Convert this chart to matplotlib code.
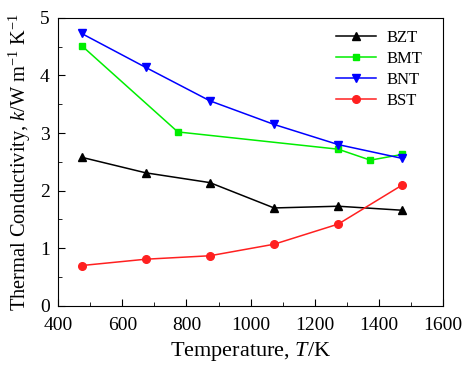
import matplotlib
matplotlib.use('Agg')
import matplotlib.pyplot as plt
from matplotlib.ticker import MultipleLocator

plt.rcParams['font.family'] = ['Liberation Serif', 'DejaVu Serif']
plt.rcParams['mathtext.fontset'] = 'custom'
plt.rcParams['mathtext.rm'] = 'Liberation Serif'
plt.rcParams['mathtext.it'] = 'Liberation Serif:italic'

# data
t_bzt = [473, 673, 873, 1073, 1273, 1473]
k_bzt = [2.58, 2.31, 2.14, 1.70, 1.73, 1.66]
t_bmt = [473, 773, 1273, 1373, 1473]
k_bmt = [4.52, 3.02, 2.72, 2.53, 2.63]
t_bnt = [473, 673, 873, 1073, 1273, 1473]
k_bnt = [4.73, 4.14, 3.56, 3.15, 2.80, 2.56]
t_bst = [473, 673, 873, 1073, 1273, 1473]
k_bst = [0.70, 0.81, 0.87, 1.07, 1.42, 2.10]

fig = plt.figure(figsize=(4.65, 3.65), dpi=100)
ax = fig.add_axes([0.125, 0.162, 0.828, 0.789])

ax.plot(t_bzt, k_bzt, color='black', marker='^', ms=6, lw=1.1, label='BZT')
ax.plot(t_bmt, k_bmt, color='#00ee00', marker='s', ms=5, lw=1.1, label='BMT')
ax.plot(t_bnt, k_bnt, color='#0000ff', marker='v', ms=6, lw=1.1, label='BNT')
ax.plot(t_bst, k_bst, color='#ff2020', marker='o', ms=5.5, lw=1.1, label='BST')

ax.set_xlim(400, 1600)
ax.set_ylim(0, 5)
ax.xaxis.set_major_locator(MultipleLocator(200))
ax.xaxis.set_minor_locator(MultipleLocator(100))
ax.yaxis.set_major_locator(MultipleLocator(1))
ax.yaxis.set_minor_locator(MultipleLocator(0.5))
ax.tick_params(which='both', direction='in', labelsize=14)
ax.tick_params(which='major', length=5)
ax.tick_params(which='minor', length=3)
ax.tick_params(axis='x', which='major', pad=8)
ax.tick_params(axis='y', which='major', pad=6)

ax.set_xlabel('Temperature, $T$/K', fontsize=16, labelpad=4)
ax.set_ylabel('Thermal Conductivity, $k$/W m$^{-1}$ K$^{-1}$', fontsize=14.7, labelpad=5)

ax.legend(loc='upper right', frameon=False, fontsize=12, handlelength=2.4,
          labelspacing=0.3, handletextpad=0.6, bbox_to_anchor=(0.985, 1.01))

fig.savefig('out.png', dpi=100)
